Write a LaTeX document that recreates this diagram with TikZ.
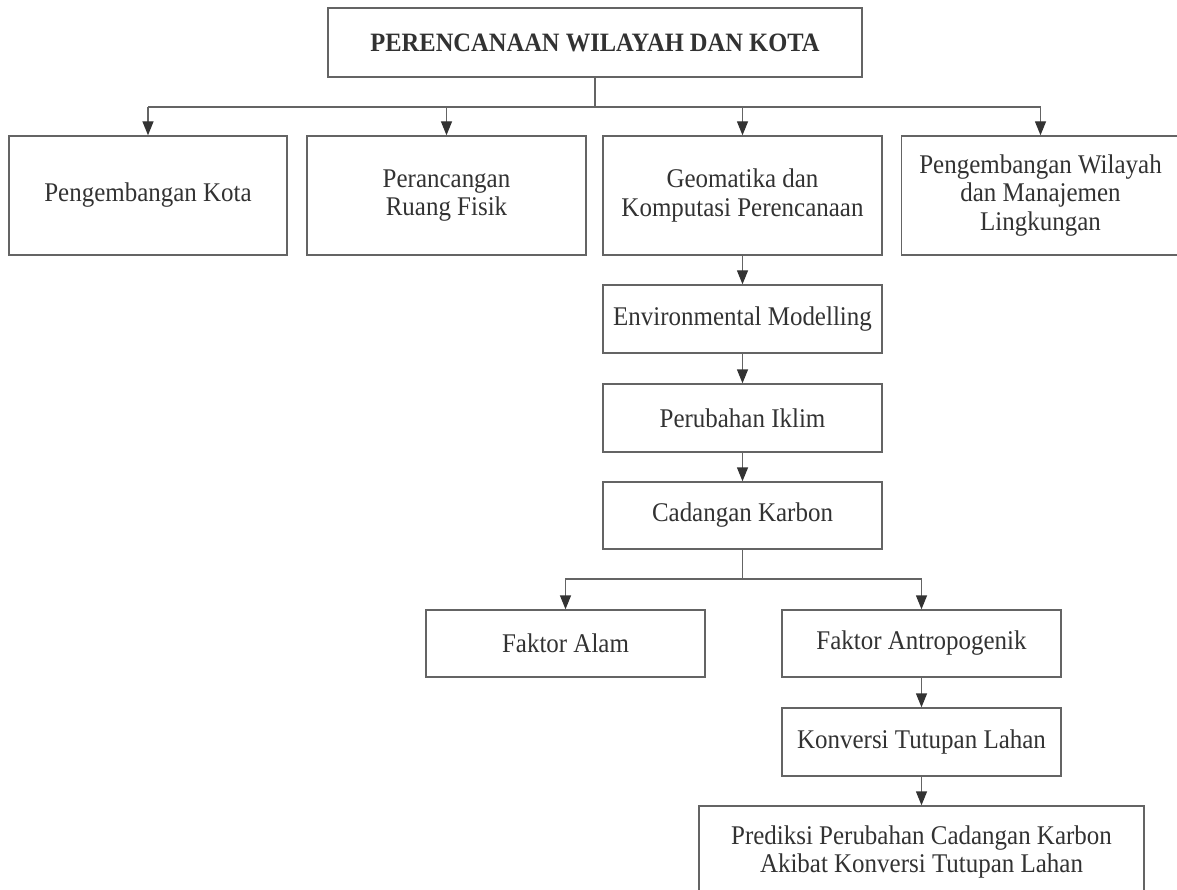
\documentclass[tikz,border=0pt]{standalone}
\usepackage{fontspec}
\setmainfont{Liberation Serif}[FakeStretch=0.925]
\usetikzlibrary{arrows.meta}
\definecolor{linec}{RGB}{100,100,100}
\definecolor{textc}{RGB}{50,50,50}
\begin{document}
\begin{tikzpicture}[x=1pt,y=-1pt,
  box/.style={draw=linec, line width=1.4pt, rectangle, inner sep=0pt, align=center,
    text=textc, font=\fontsize{27}{28.5}\selectfont},
  conn/.style={draw=linec, line width=1.4pt},
  arr/.style={conn, -{Triangle[length=14pt,width=11pt]}, arrows={[color=black!80]}}
]
\useasboundingbox (0,0) rectangle (1177,890);
% boxes: centre x, centre y, width, height
\node[box, minimum width=534pt, minimum height=69pt, font=\fontsize{26.5}{28}\selectfont\bfseries] (top) at (595,42.5) {PERENCANAAN WILAYAH DAN KOTA};
\node[box, minimum width=278pt, minimum height=119pt] (b1) at (148,195.5) {Pengembangan Kota};
\node[box, minimum width=279pt, minimum height=119pt] (b2) at (446.5,195.5) {Perancangan\\Ruang Fisik};
\node[box, minimum width=279pt, minimum height=119pt] (b3) at (742.5,195.5) {Geomatika dan\\Komputasi Perencanaan};
\node[box, minimum width=278pt, minimum height=119pt] (b4) at (1040.5,195.5) {Pengembangan Wilayah\\dan Manajemen\\Lingkungan};
\node[box, minimum width=279pt, minimum height=68pt] (env) at (742.5,319) {Environmental Modelling};
\node[box, minimum width=279pt, minimum height=68pt] (per) at (742.5,418) {Perubahan Iklim};
\node[box, minimum width=279pt, minimum height=67pt] (cad) at (742.5,515.5) {Cadangan Karbon};
\node[box, minimum width=279pt, minimum height=67pt] (alam) at (565.5,643.5) {Faktor Alam};
\node[box, minimum width=279pt, minimum height=67pt] (antro) at (921.5,643.5) {Faktor Antropogenik};
\node[box, minimum width=279pt, minimum height=68pt] (konv) at (921.5,742) {Konversi Tutupan Lahan};
\node[box, minimum width=445pt, minimum height=92pt, font=\fontsize{27}{27.5}\selectfont] (last) at (921.5,852) {Prediksi Perubahan Cadangan Karbon\\Akibat Konversi Tutupan Lahan};
% connectors
\coordinate (j1) at (595,107);
\draw[conn] (top.south) -- (j1);
\draw[conn] (b1.north |- j1) -- (b4.north |- j1);
\draw[arr] (b1.north |- j1) -- (b1.north);
\draw[arr] (b2.north |- j1) -- (b2.north);
\draw[arr] (b3.north |- j1) -- (b3.north);
\draw[arr] (b4.north |- j1) -- (b4.north);
\draw[arr] (b3.south) -- (env.north);
\draw[arr] (env.south) -- (per.north);
\draw[arr] (per.south) -- (cad.north);
\coordinate (j2) at (742.5,579);
\draw[conn] (cad.south) -- (j2);
\draw[arr] (j2) -| (alam.north);
\draw[arr] (j2) -| (antro.north);
\draw[arr] (antro.south) -- (konv.north);
\draw[arr] (konv.south) -- (last.north);
\end{tikzpicture}
\end{document}
